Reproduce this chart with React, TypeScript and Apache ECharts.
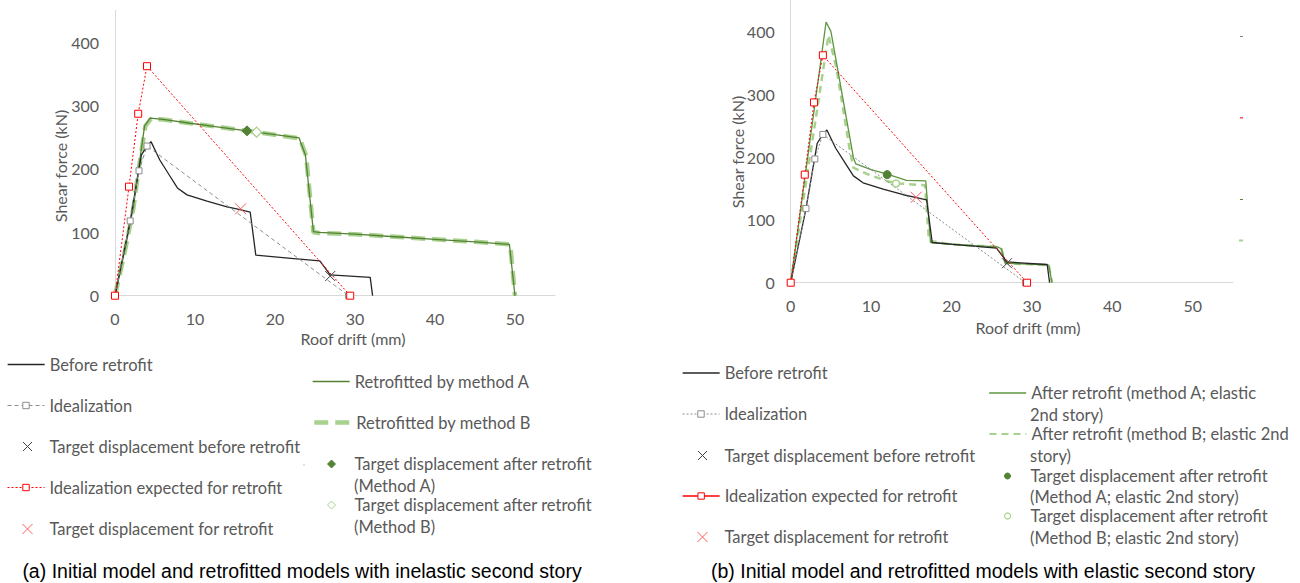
import React, { useEffect, useRef } from 'react';
import * as echarts from 'echarts';

// ---------- data (roof drift mm, shear force kN) ----------
const beforeRetrofit: number[][] = [[0, 0], [1.9, 118], [3.3, 222], [3.9, 234], [4.5, 243], [5.6, 214], [6.9, 188], [7.8, 170], [9.0, 159], [11.5, 149], [14.0, 140], [15.5, 136], [16.9, 132], [17.6, 64], [22.0, 59], [25.6, 55], [26.9, 33], [31.9, 29], [32.2, 0]];
const idealization: number[][] = [[0, 0], [1.9, 118], [3.0, 197], [4.0, 236], [29.2, 0]];
const targetBefore: number[][] = [[26.9, 31]];
const idealizationExpected: number[][] = [[0, 0], [1.75, 172], [2.9, 287], [4.0, 362], [29.4, 0]];
const targetForRetrofitInelastic: number[][] = [[15.7, 137]];
const retrofitMethodA: number[][] = [[0, 0], [1.2, 70], [2.3, 140], [3.0, 205], [3.7, 268], [4.4, 280], [6.0, 278], [9.4, 272], [13.0, 266], [16.5, 260], [20.0, 254], [23.0, 249], [23.8, 222], [24.8, 101], [25.5, 100], [30.0, 97], [35.0, 93], [40.0, 89], [45.0, 85], [49.3, 81], [50.0, 0]];
const retrofitMethodB: number[][] = [[0, 0], [1.2, 68], [2.3, 138], [3.0, 203], [3.8, 268], [4.5, 279], [6.0, 278], [9.4, 272], [13.0, 266], [16.5, 260], [20.0, 254], [23.1, 248], [23.9, 220], [24.8, 100], [25.5, 99], [30.0, 97], [35.0, 93], [40.0, 89], [45.0, 85], [49.4, 81], [50.0, 0]];
const targetAfterMethodA: number[][] = [[16.5, 260]];
const targetAfterMethodB: number[][] = [[17.7, 258]];

const elasticMethodA: number[][] = [[0, 0], [4.4, 415], [5.0, 400], [7.8, 199], [8.1, 189], [10.0, 180], [12.0, 173], [14.4, 163], [16.8, 162], [17.4, 64], [20.0, 61], [25.7, 57], [26.2, 54], [26.7, 31], [32.1, 28], [32.5, 0]];
const elasticMethodB: number[][] = [[0, 0], [4.7, 394], [5.7, 341], [7.3, 215], [7.8, 183], [9.5, 173], [11.9, 162], [13.4, 158], [16.7, 155], [17.2, 67], [20.0, 61], [25.7, 57], [26.2, 54], [26.7, 31], [32.1, 28], [32.5, 0]];
const targetAfterElasticA: number[][] = [[12.0, 172]];
const targetAfterElasticB: number[][] = [[13.1, 158]];
const targetForRetrofitElastic: number[][] = [[15.6, 136]];

const captionA = '(a) Initial model and retrofitted models with inelastic second story';
const captionB = '(b) Initial model and retrofitted models with elastic second story';
const yAxisName = 'Shear force (kN)';
const xAxisName = 'Roof drift (mm)';

// ---------- styles ----------
const X_PATH = 'path://M0,0L10,10M10,0L0,10';
const FONT = 'Lato';
const FS = 16.5;
const TXT = '#595959';
const BLACK = '#262626';
const GRAY = '#8C8C8C';
const RED = '#FF0000';
const LRED = '#FF5B5B';
const DGREEN = '#548235';
const MGREEN = '#5E9440';
const LGREEN = '#A9D18E';

function lineSeries(name: string, data: number[][], idx: number, color: string, width: number, type: any) {
  return {
    type: 'line', name, data, xAxisIndex: idx, yAxisIndex: idx,
    symbol: 'none', showSymbol: false,
    lineStyle: { color, width, type },
    itemStyle: { color: 'transparent', borderWidth: 0 },
    emphasis: { disabled: true },
    z: 2,
  };
}
function squareLine(name: string, data: number[][], idx: number, color: string, type: any, size: number) {
  return {
    type: 'line', name, data, xAxisIndex: idx, yAxisIndex: idx,
    symbol: 'rect', symbolSize: size, showSymbol: true, showAllSymbol: true,
    lineStyle: { color, width: 1, type },
    itemStyle: { color: '#ffffff', borderColor: color, borderWidth: 1 },
    emphasis: { disabled: true },
    z: 4,
  };
}
function marker(name: string, data: number[][], idx: number, symbol: string, size: number, fill: string, stroke: string, bw: number) {
  return {
    type: 'scatter', name, data, xAxisIndex: idx, yAxisIndex: idx,
    symbol, symbolSize: size, symbolKeepAspect: true,
    itemStyle: { color: fill, borderColor: stroke, borderWidth: bw, opacity: 1 },
    emphasis: { disabled: true },
    z: 6,
  };
}

const legendText = { fontFamily: FONT, fontSize: FS, color: TXT, lineHeight: 20 };
function legendItem(name: string, label: string, left: number, cy: number, opt: any = {}) {
  return {
    show: true, left, top: cy - 10, padding: 0, orient: 'horizontal',
    data: [name], itemWidth: 37, itemHeight: 8, itemGap: 0,
    selectedMode: false, formatter: () => label,
    textStyle: legendText,
    itemStyle: { borderWidth: opt.bw ?? 1 },
    lineStyle: { width: opt.lw ?? 1, ...(opt.ltype ? { type: opt.ltype } : {}) },
  };
}
// legend entry for a marker-only series: icon centred at cx, text starting at textX
function legendMarker(name: string, label: string, cx: number, cy: number, textX: number, size: number, bw: number) {
  const left = cx - size / 2;
  const pad = Math.max(0, textX - (left + size + 5));
  return {
    show: true, left, top: cy - 10, padding: 0, orient: 'horizontal',
    data: [name], itemWidth: size, itemHeight: size, itemGap: 0,
    selectedMode: false, formatter: () => label,
    textStyle: { ...legendText, padding: [0, 0, 0, pad] },
    itemStyle: { borderWidth: bw },
  };
}
function secondLine(text: string, x: number, y: number) {
  return { type: 'text', x, y, style: { text, fill: TXT, font: `${FS}px ${FONT}`, textAlign: 'left', textVerticalAlign: 'middle' } };
}

function axisPair(gridIndex: number) {
  return {
    x: {
      type: 'value', gridIndex, min: 0, max: 55, interval: 10,
      axisLine: { show: true, lineStyle: { color: '#D9D9D9', width: 1 } },
      axisTick: { show: false }, splitLine: { show: false },
      axisLabel: { color: TXT, fontFamily: FONT, fontSize: 16, margin: 15, showMaxLabel: false },
    },
    y: {
      type: 'value', gridIndex, min: 0, max: 450, interval: 100,
      axisLine: { show: true, lineStyle: { color: '#D9D9D9', width: 1 } },
      axisTick: { show: false }, splitLine: { show: false },
      axisLabel: { color: TXT, fontFamily: FONT, fontSize: 16, margin: 16, showMaxLabel: false },
    },
  };
}

export default function App() {
  const ref = useRef<HTMLDivElement>(null);
  useEffect(() => {
    if (!ref.current) return;
    const chart = echarts.init(ref.current, undefined, { renderer: 'svg' });
    const a = axisPair(0);
    const b = axisPair(1);
    const B = ' [b]';
    const option: any = {
      animation: false,
      backgroundColor: '#ffffff',
      grid: [
        { left: 115, top: 10.4, width: 440, height: 285.3 },
        { left: 790.7, top: -2.3, width: 442.2, height: 285 },
      ],
      xAxis: [a.x, b.x],
      yAxis: [a.y, b.y],
      series: [
        // (a) inelastic second story
        lineSeries('Retrofitted by method B', retrofitMethodB, 0, LGREEN, 4.5, [14, 7]),
        lineSeries('Retrofitted by method A', retrofitMethodA, 0, DGREEN, 1.3, 'solid'),
        lineSeries('Before retrofit', beforeRetrofit, 0, BLACK, 1.3, 'solid'),
        squareLine('Idealization', idealization, 0, GRAY, [4, 3], 6),
        squareLine('Idealization expected for retrofit', idealizationExpected, 0, RED, [2, 2], 7),
        marker('Target displacement before retrofit', targetBefore, 0, X_PATH, 10, '#404040', '#404040', 1),
        marker('Target displacement for retrofit', targetForRetrofitInelastic, 0, X_PATH, 11, LRED, LRED, 1),
        marker('Target displacement after retrofit (Method A)', targetAfterMethodA, 0, 'diamond', 10, DGREEN, DGREEN, 1),
        marker('Target displacement after retrofit (Method B)', targetAfterMethodB, 0, 'diamond', 10, '#ffffff', LGREEN, 1.3),
        // (b) elastic second story
        lineSeries('After retrofit (method B; elastic 2nd story)', elasticMethodB, 1, LGREEN, 2.5, [7, 5]),
        lineSeries('After retrofit (method A; elastic 2nd story)', elasticMethodA, 1, MGREEN, 1.3, 'solid'),
        lineSeries('Before retrofit' + B, beforeRetrofit, 1, BLACK, 1.3, 'solid'),
        squareLine('Idealization' + B, idealization, 1, GRAY, [2, 2], 6),
        squareLine('Idealization expected for retrofit' + B, idealizationExpected, 1, RED, [2, 2], 7),
        marker('Target displacement before retrofit' + B, targetBefore, 1, X_PATH, 10, '#404040', '#404040', 1),
        marker('Target displacement for retrofit' + B, targetForRetrofitElastic, 1, X_PATH, 11, LRED, LRED, 1),
        marker('Target displacement after retrofit (Method A; elastic 2nd story)', targetAfterElasticA, 1, 'circle', 8, DGREEN, DGREEN, 1),
        marker('Target displacement after retrofit (Method B; elastic 2nd story)', targetAfterElasticB, 1, 'circle', 7, '#ffffff', LGREEN, 1.5),
      ],
      legend: [
        legendItem('Before retrofit', 'Before retrofit', 7, 364.5, { lw: 1.3 }),
        legendItem('Idealization', 'Idealization', 7, 405.5),
        legendMarker('Target displacement before retrofit', 'Target displacement before retrofit', 27, 446.5, 49, 9, 1),
        legendItem('Idealization expected for retrofit', 'Idealization expected for retrofit', 7, 487.5),
        legendMarker('Target displacement for retrofit', 'Target displacement for retrofit', 27, 529, 49, 10, 1),
        legendItem('Retrofitted by method A', 'Retrofitted by method A', 312, 381.5, { lw: 1.3 }),
        legendItem('Retrofitted by method B', 'Retrofitted by method B', 312, 422.5, { lw: 4.5 }),
        legendMarker('Target displacement after retrofit (Method A)', 'Target displacement after retrofit', 331, 464, 354, 8, 1),
        legendMarker('Target displacement after retrofit (Method B)', 'Target displacement after retrofit', 331, 505, 354, 8, 1),

        legendItem('Before retrofit' + B, 'Before retrofit', 682, 373, { lw: 1.3 }),
        legendItem('Idealization' + B, 'Idealization', 682, 414),
        legendMarker('Target displacement before retrofit' + B, 'Target displacement before retrofit', 702, 455.5, 724, 9, 1),
        legendItem('Idealization expected for retrofit' + B, 'Idealization expected for retrofit', 682, 496, { ltype: 'solid', lw: 1.3 }),
        legendMarker('Target displacement for retrofit' + B, 'Target displacement for retrofit', 702, 537, 724, 10, 1),
        legendItem('After retrofit (method A; elastic 2nd story)', 'After retrofit (method A; elastic', 988.5, 393, { lw: 1.3 }),
        legendItem('After retrofit (method B; elastic 2nd story)', 'After retrofit (method B; elastic 2nd', 988.5, 434, { lw: 2 }),
        legendMarker('Target displacement after retrofit (Method A; elastic 2nd story)', 'Target displacement after retrofit', 1007, 476, 1030, 6, 1),
        legendMarker('Target displacement after retrofit (Method B; elastic 2nd story)', 'Target displacement after retrofit', 1007, 516, 1030, 6, 1.2),
      ],
      graphic: [
        { type: 'text', x: 60, y: 166, rotation: Math.PI / 2, style: { text: yAxisName, fill: TXT, font: `16px ${FONT}`, textAlign: 'center', textVerticalAlign: 'middle' } },
        { type: 'text', x: 737, y: 152, rotation: Math.PI / 2, style: { text: yAxisName, fill: TXT, font: `16px ${FONT}`, textAlign: 'center', textVerticalAlign: 'middle' } },
        { type: 'text', x: 353, y: 338, style: { text: xAxisName, fill: TXT, font: `16px ${FONT}`, textAlign: 'center', textVerticalAlign: 'middle' } },
        { type: 'text', x: 1028, y: 327, style: { text: xAxisName, fill: TXT, font: `16px ${FONT}`, textAlign: 'center', textVerticalAlign: 'middle' } },
        { type: 'text', x: 302, y: 571, style: { text: captionA, fill: '#000000', font: `19.5px "Liberation Sans"`, textAlign: 'center', textVerticalAlign: 'middle' } },
        { type: 'text', x: 983, y: 571, style: { text: captionB, fill: '#000000', font: `19.5px "Liberation Sans"`, textAlign: 'center', textVerticalAlign: 'middle' } },
        secondLine('(Method A)', 354, 485.5),
        secondLine('(Method B)', 354, 526.5),
        secondLine('2nd story)', 1030, 414.5),
        secondLine('story)', 1030, 455.5),
        secondLine('(Method A; elastic 2nd story)', 1030, 497),
        secondLine('(Method B; elastic 2nd story)', 1030, 537.5),
        { type: 'rect', shape: { x: 1240, y: 36, width: 3, height: 1 }, style: { fill: '#7F7F7F' } },
        { type: 'rect', shape: { x: 1240, y: 117, width: 3, height: 1.5 }, style: { fill: '#FF5050' } },
        { type: 'rect', shape: { x: 1240, y: 199, width: 3, height: 1 }, style: { fill: DGREEN } },
        { type: 'rect', shape: { x: 1239, y: 239.5, width: 4, height: 2 }, style: { fill: LGREEN } },
        { type: 'rect', shape: { x: 303, y: 464.5, width: 2, height: 1 }, style: { fill: '#BFBFBF' } },
      ],
    };
    chart.setOption(option);
    return () => chart.dispose();
  }, []);
  return <div ref={ref} style={{ position: 'absolute', left: 0, top: 0, width: 1300, height: 583, background: '#fff' }} />;
}
